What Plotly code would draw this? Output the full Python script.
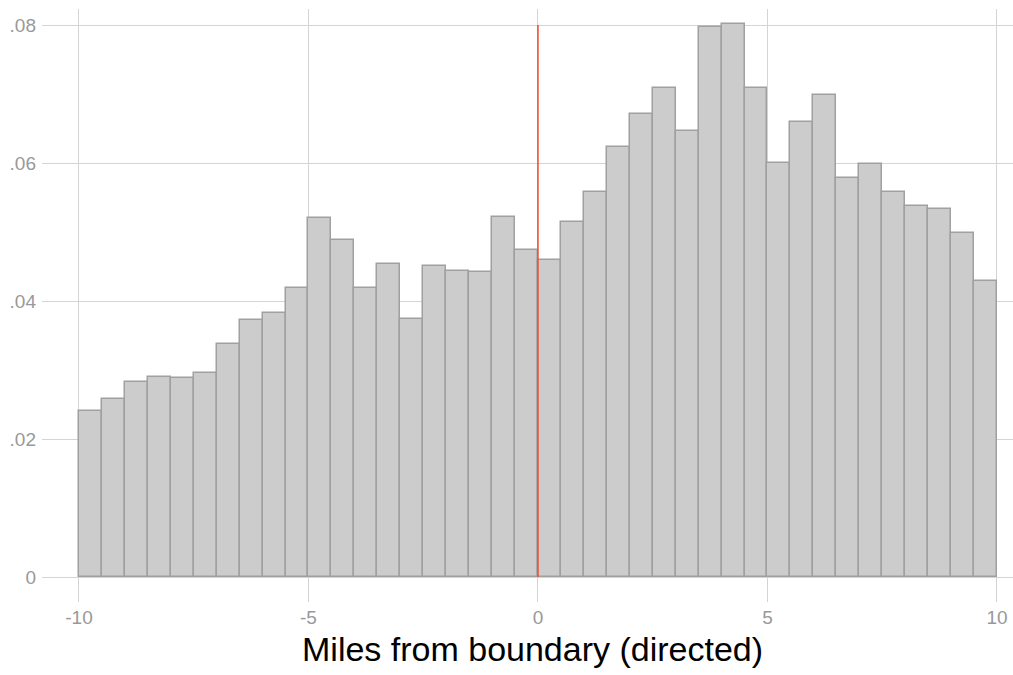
import plotly.graph_objects as go

# Histogram: 40 bins of width 0.5 from -10 to 10
bin_start = -10.0
bin_width = 0.5
densities = [
    0.0240, 0.0258, 0.0282, 0.0290, 0.0289, 0.0296, 0.0338, 0.0373, 0.0383, 0.0419,
    0.0520, 0.0489, 0.0419, 0.0454, 0.0374, 0.0451, 0.0443, 0.0442, 0.0522, 0.0474,
    0.0460, 0.0515, 0.0558, 0.0623, 0.0671, 0.0709, 0.0646, 0.0797, 0.0801, 0.0708,
    0.0600, 0.0660, 0.0698, 0.0578, 0.0599, 0.0558, 0.0538, 0.0534, 0.0498, 0.0429,
]
x_ticks = [-10, -5, 0, 5, 10]
x_tick_text = ["-10", "-5", "0", "5", "10"]
y_ticks = [0, 0.02, 0.04, 0.06, 0.08]
y_tick_text = ["0", ".02", ".04", ".06", ".08"]
boundary = 0
line_top = 0.08
x_title = "Miles from boundary (directed)"

centers = [bin_start + bin_width * (i + 0.5) for i in range(len(densities))]

fig = go.Figure()
fig.add_trace(go.Bar(
    x=centers, y=densities, width=bin_width,
    marker=dict(color="#cccccc", line=dict(color="#a0a0a0", width=1.5)),
    showlegend=False, hoverinfo="skip",
))
fig.add_shape(type="line", xref="x", yref="y", x0=boundary, x1=boundary, y0=0, y1=line_top,
              line=dict(color="#ee4b2b", width=1.5), layer="above")

fig.add_annotation(text=x_title, xref="paper", yref="paper", x=0.5, xshift=5,
                   y=-0.0785, xanchor="center", yanchor="middle", showarrow=False,
                   font=dict(size=34, color="#000000"))

fig.update_layout(
    width=1013, height=675,
    margin=dict(l=42, r=0, t=9, b=73, autoexpand=False),
    paper_bgcolor="white", plot_bgcolor="white",
    font=dict(family="Liberation Sans, Arial, sans-serif", color="#999999", size=19),
    bargap=0,
    xaxis=dict(
        range=[-10.806, 10.35], tickvals=x_ticks, ticktext=x_tick_text,
        showgrid=True, gridcolor="#d4d4d4", gridwidth=1, zeroline=False,
        showline=False, ticks="", ticklabelstandoff=2, automargin=False,
    ),
    yaxis=dict(
        range=[-0.00362, 0.08232], tickvals=y_ticks, ticktext=y_tick_text,
        showgrid=True, gridcolor="#d4d4d4", gridwidth=1, zeroline=False,
        showline=False, ticks="", ticklabelstandoff=5, automargin=False,
    ),
)

fig.write_html("out.html", config={"displayModeBar": False},
               post_script="document.body.style.margin='0';document.body.style.overflow='hidden';")
